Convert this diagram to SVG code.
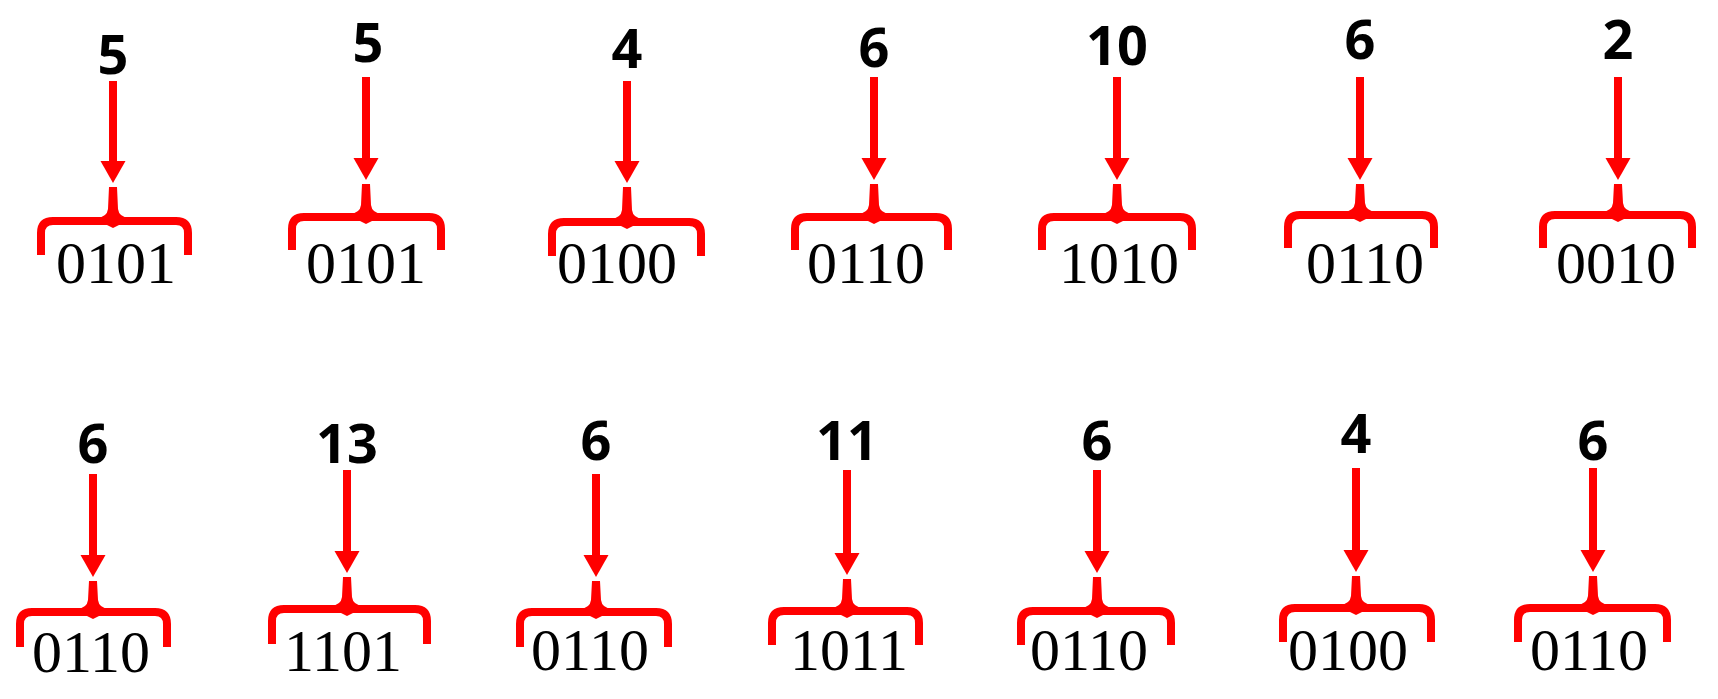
<svg xmlns="http://www.w3.org/2000/svg" width="1718" height="699" viewBox="0 0 1718 699">
<style>
.lbl{font-family:"Open Sans","Liberation Sans",sans-serif;font-weight:700;font-size:54px;fill:#000;text-anchor:middle}
.bin{font-family:'Liberation Serif','Times New Roman',serif;font-size:60px;fill:#000;text-anchor:middle}
.br{fill:none;stroke:#FF0000;stroke-width:8}
.rf{fill:#FF0000;stroke:none}
</style>
<rect width="1718" height="699" fill="#fff"/>
<g id="connectors">
<rect class="rf" x="109" y="81" width="8" height="81"/><polygon class="rf" points="100.5,161 125.5,161 113,183"/>
<rect class="rf" x="362" y="77" width="8" height="81"/><polygon class="rf" points="353.5,158 378.5,158 366,180"/>
<rect class="rf" x="623" y="81" width="8" height="81"/><polygon class="rf" points="614.5,161 639.5,161 627,183"/>
<rect class="rf" x="870" y="77" width="8" height="81"/><polygon class="rf" points="861.5,158 886.5,158 874,180"/>
<rect class="rf" x="1113" y="77" width="8" height="81"/><polygon class="rf" points="1104.5,158 1129.5,158 1117,180"/>
<rect class="rf" x="1356" y="77" width="8" height="81"/><polygon class="rf" points="1347.5,158 1372.5,158 1360,180"/>
<rect class="rf" x="1614" y="77" width="8" height="81"/><polygon class="rf" points="1605.5,158 1630.5,158 1618,180"/>
<rect class="rf" x="89" y="474" width="8" height="81"/><polygon class="rf" points="80.5,555 105.5,555 93,577"/>
<rect class="rf" x="343" y="470" width="8" height="81"/><polygon class="rf" points="334.5,551 359.5,551 347,573"/>
<rect class="rf" x="592" y="474" width="8" height="81"/><polygon class="rf" points="583.5,555 608.5,555 596,577"/>
<rect class="rf" x="843" y="470" width="8" height="83"/><polygon class="rf" points="834.5,553 859.5,553 847,575"/>
<rect class="rf" x="1093" y="470" width="8" height="81"/><polygon class="rf" points="1084.5,551 1109.5,551 1097,573"/>
<rect class="rf" x="1352" y="468" width="8" height="82"/><polygon class="rf" points="1343.5,550 1368.5,550 1356,572"/>
<rect class="rf" x="1589" y="468" width="8" height="82"/><polygon class="rf" points="1580.5,550 1605.5,550 1593,572"/>
</g>
<g id="n1"><text class="lbl" x="113" y="74">5</text>
<path class="br" d="M41,255 V233 Q41,221 53,221 H176 Q188,221 188,233 V255"/>
<path class="rf" d="M109,187 H117 L118,209 Q119,217 129,218 L97,218 Q107,217 108,209 Z M105,224 L113,228 L121,224 Z"/>
<text class="bin" x="116" y="283">0101</text></g>
<g id="n2"><text class="lbl" x="368" y="62">5</text>
<path class="br" d="M292,250 V229 Q292,217 304,217 H429 Q441,217 441,229 V250"/>
<path class="rf" d="M362,184 H370 L371,205 Q372,213 382,214 L350,214 Q360,213 361,205 Z M358,220 L366,224 L374,220 Z"/>
<text class="bin" x="366" y="283">0101</text></g>
<g id="n3"><text class="lbl" x="627" y="68">4</text>
<path class="br" d="M552,256 V234 Q552,222 564,222 H689 Q701,222 701,234 V256"/>
<path class="rf" d="M623,187 H631 L632,210 Q633,218 643,219 L611,219 Q621,218 622,210 Z M619,225 L627,229 L635,225 Z"/>
<text class="bin" x="617" y="283">0100</text></g>
<g id="n4"><text class="lbl" x="874" y="67">6</text>
<path class="br" d="M795,250 V229 Q795,217 807,217 H936 Q948,217 948,229 V250"/>
<path class="rf" d="M870,184 H878 L879,205 Q880,213 890,214 L858,214 Q868,213 869,205 Z M866,220 L874,224 L882,220 Z"/>
<text class="bin" x="866" y="283">0110</text></g>
<g id="n5"><text class="lbl" x="1117" y="65">10</text>
<path class="br" d="M1042,250 V229 Q1042,217 1054,217 H1180 Q1192,217 1192,229 V250"/>
<path class="rf" d="M1113,184 H1121 L1122,205 Q1123,213 1133,214 L1101,214 Q1111,213 1112,205 Z M1109,220 L1117,224 L1125,220 Z"/>
<text class="bin" x="1119" y="283">1010</text></g>
<g id="n6"><text class="lbl" x="1360" y="59">6</text>
<path class="br" d="M1288,248 V227 Q1288,215 1300,215 H1422 Q1434,215 1434,227 V248"/>
<path class="rf" d="M1356,184 H1364 L1365,203 Q1366,211 1376,212 L1344,212 Q1354,211 1355,203 Z M1352,218 L1360,222 L1368,218 Z"/>
<text class="bin" x="1365" y="283">0110</text></g>
<g id="n7"><text class="lbl" x="1618" y="59">2</text>
<path class="br" d="M1543,248 V227 Q1543,215 1555,215 H1680 Q1692,215 1692,227 V248"/>
<path class="rf" d="M1614,184 H1622 L1623,203 Q1624,211 1634,212 L1602,212 Q1612,211 1613,203 Z M1610,218 L1618,222 L1626,218 Z"/>
<text class="bin" x="1616" y="283">0010</text></g>
<g id="n8"><text class="lbl" x="93" y="463">6</text>
<path class="br" d="M20,647 V624 Q20,612 32,612 H155 Q167,612 167,624 V647"/>
<path class="rf" d="M89,581 H97 L98,600 Q99,608 109,609 L77,609 Q87,608 88,600 Z M85,615 L93,619 L101,615 Z"/>
<text class="bin" x="91" y="672">0110</text></g>
<g id="n9"><text class="lbl" x="347" y="463">13</text>
<path class="br" d="M272,644 V621 Q272,609 284,609 H415 Q427,609 427,621 V644"/>
<path class="rf" d="M343,577 H351 L352,597 Q353,605 363,606 L331,606 Q341,605 342,597 Z M339,612 L347,616 L355,612 Z"/>
<text class="bin" x="343" y="671">1101</text></g>
<g id="n10"><text class="lbl" x="596" y="460">6</text>
<path class="br" d="M520,647 V624 Q520,612 532,612 H656 Q668,612 668,624 V647"/>
<path class="rf" d="M592,581 H600 L601,600 Q602,608 612,609 L580,609 Q590,608 591,600 Z M588,615 L596,619 L604,615 Z"/>
<text class="bin" x="590" y="670">0110</text></g>
<g id="n11"><text class="lbl" x="847" y="460">11</text>
<path class="br" d="M772,645 V623 Q772,611 784,611 H907 Q919,611 919,623 V645"/>
<path class="rf" d="M843,579 H851 L852,599 Q853,607 863,608 L831,608 Q841,607 842,599 Z M839,614 L847,618 L855,614 Z"/>
<text class="bin" x="849" y="670">1011</text></g>
<g id="n12"><text class="lbl" x="1097" y="460">6</text>
<path class="br" d="M1021,645 V623 Q1021,611 1033,611 H1159 Q1171,611 1171,623 V645"/>
<path class="rf" d="M1093,577 H1101 L1102,599 Q1103,607 1113,608 L1081,608 Q1091,607 1092,599 Z M1089,614 L1097,618 L1105,614 Z"/>
<text class="bin" x="1089" y="670">0110</text></g>
<g id="n13"><text class="lbl" x="1356" y="453">4</text>
<path class="br" d="M1283,642 V620 Q1283,608 1295,608 H1419 Q1431,608 1431,620 V642"/>
<path class="rf" d="M1352,576 H1360 L1361,596 Q1362,604 1372,605 L1340,605 Q1350,604 1351,596 Z M1348,611 L1356,615 L1364,611 Z"/>
<text class="bin" x="1348" y="670">0100</text></g>
<g id="n14"><text class="lbl" x="1593" y="460">6</text>
<path class="br" d="M1518,642 V620 Q1518,608 1530,608 H1655 Q1667,608 1667,620 V642"/>
<path class="rf" d="M1589,576 H1597 L1598,596 Q1599,604 1609,605 L1577,605 Q1587,604 1588,596 Z M1585,611 L1593,615 L1601,611 Z"/>
<text class="bin" x="1589" y="670">0110</text></g>
</svg>
